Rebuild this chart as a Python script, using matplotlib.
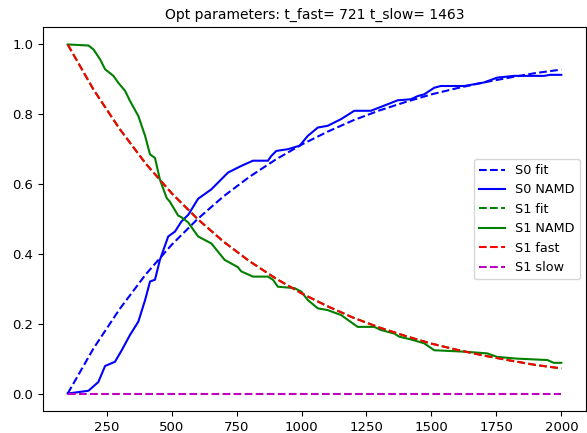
import matplotlib
matplotlib.use("Agg")
import matplotlib.pyplot as plt

# fitted curves, read every 100 steps
t_fit = [100, 200, 300, 400, 500, 600, 700, 800, 900, 1000,
         1100, 1200, 1300, 1400, 1500, 1600, 1700, 1800, 1900, 2000]
s1_fit = [1.0, 0.870, 0.758, 0.659, 0.574, 0.500, 0.435, 0.379, 0.330, 0.287,
          0.250, 0.217, 0.189, 0.165, 0.143, 0.125, 0.109, 0.095, 0.082, 0.072]
s0_fit = [0.0, 0.130, 0.242, 0.341, 0.426, 0.500, 0.565, 0.621, 0.670, 0.713,
          0.750, 0.783, 0.811, 0.835, 0.857, 0.875, 0.891, 0.905, 0.918, 0.928]
s1_fast = s1_fit
s1_slow = [0.0] * len(t_fit)

# NAMD populations
t_s0 = [100, 180, 218, 244, 282, 308, 340, 372, 398, 417, 436, 455, 487, 513,
        538, 564, 602, 653, 717, 768, 813, 871, 883, 903, 948, 993, 1024, 1063,
        1101, 1152, 1203, 1267, 1319, 1370, 1421, 1447, 1472, 1511, 1536, 1626,
        1702, 1753, 1818, 1933, 1958, 2000]
s0_namd = [0.0, 0.008, 0.033, 0.079, 0.091, 0.124, 0.168, 0.206, 0.268, 0.321,
           0.326, 0.383, 0.450, 0.464, 0.493, 0.512, 0.558, 0.585, 0.633, 0.652,
           0.667, 0.667, 0.680, 0.695, 0.700, 0.710, 0.738, 0.762, 0.767, 0.786,
           0.810, 0.810, 0.825, 0.840, 0.843, 0.852, 0.857, 0.876, 0.881, 0.881,
           0.891, 0.905, 0.910, 0.910, 0.913, 0.913]

t_s1 = [100, 180, 199, 225, 244, 276, 295, 321, 340, 372, 398, 417, 436, 455,
        481, 493, 525, 538, 564, 602, 653, 704, 755, 768, 813, 871, 890, 909,
        973, 999, 1024, 1063, 1101, 1152, 1216, 1280, 1306, 1357, 1376, 1421,
        1472, 1511, 1626, 1715, 1753, 1830, 1946, 1971, 2000]
s1_namd = [1.0, 0.997, 0.986, 0.957, 0.929, 0.910, 0.890, 0.867, 0.838, 0.795,
           0.738, 0.685, 0.675, 0.613, 0.560, 0.550, 0.510, 0.505, 0.490, 0.450,
           0.430, 0.383, 0.362, 0.350, 0.335, 0.335, 0.326, 0.306, 0.302, 0.292,
           0.268, 0.244, 0.239, 0.225, 0.191, 0.191, 0.182, 0.172, 0.163, 0.155,
           0.144, 0.124, 0.120, 0.115, 0.105, 0.100, 0.096, 0.088, 0.088]

fig = plt.figure(figsize=(5.87, 4.33), dpi=100)
ax = fig.add_axes([43 / 587, 22 / 433, 543 / 587, 384 / 433])

ax.plot(t_fit, s0_fit, "b--", label="S0 fit")
ax.plot(t_s0, s0_namd, "b-", label="S0 NAMD")
ax.plot(t_fit, s1_fit, "g--", label="S1 fit")
ax.plot(t_s1, s1_namd, "g-", label="S1 NAMD")
ax.plot(t_fit, s1_fast, "r--", label="S1 fast")
ax.plot(t_fit, s1_slow, "m--", label="S1 slow")

ax.set_xticks([250, 500, 750, 1000, 1250, 1500, 1750, 2000])
ax.set_yticks([0.0, 0.2, 0.4, 0.6, 0.8, 1.0])
ax.tick_params(labelsize=9.5)
ax.set_title("Opt parameters: t_fast= 721 t_slow= 1463", fontsize=10)
ax.legend(loc="center right", fontsize=9.2)

fig.savefig("out.png", dpi=100)
